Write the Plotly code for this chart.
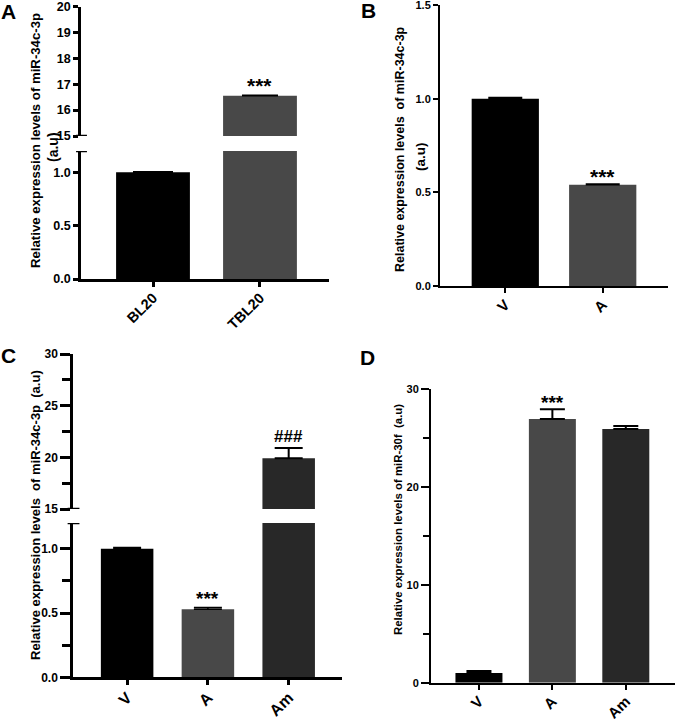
import plotly.graph_objects as go

W = 675
H = 719
FONT = "Liberation Sans"

labels_a = ["BL20", "TBL20"]
values_a = [1.0, 16.55]
errors_a = [0.006, 0.02]
colors_a = ["#000000", "#484848"]

labels_b = ["V", "A"]
values_b = [1.0, 0.54]
errors_b = [0.006, 0.004]
colors_b = ["#000000", "#484848"]

labels_c = ["V", "A", "Am"]
values_c = [1.0, 0.53, 19.9]
errors_c = [0.01, 0.012, 1.0]
colors_c = ["#000000", "#484848", "#282828"]

labels_d = ["V", "A", "Am"]
values_d = [1.0, 26.9, 25.9]
errors_d = [0.2, 1.0, 0.3]
colors_d = ["#000000", "#484848", "#282828"]


def dom_x(left, right):
    return [left / W, right / W]


def dom_y(top, bottom):
    return [1 - bottom / H, 1 - top / H]


def add_bars(fig, labels, values, errors, colors, xname, yname, width, cap, lw):
    fig.add_trace(go.Bar(
        x=labels, y=values, width=width, xaxis=xname, yaxis=yname,
        marker=dict(color=colors, line_width=0),
        error_y=dict(type="data", array=errors, arrayminus=[0] * len(errors),
                     symmetric=False, color="#000000", thickness=lw, width=cap),
        showlegend=False,
    ))


def x_axis(left, right, xrange, yname, lw, size):
    return dict(
        domain=dom_x(left, right), range=xrange, type="category", anchor=yname,
        showline=True, linecolor="#000000", linewidth=lw, showgrid=False, zeroline=False,
        ticks="outside", ticklen=5, tickwidth=lw, tickcolor="#000000", tickangle=-45,
        ticklabeloverflow="allow", ticklabelstandoff=-3,
        tickfont=dict(family=FONT, size=size, color="#000000", weight=700),
    )


def y_axis(top, bottom, yrange, dtick, xname, lw, size, ticklen, fmt="d", minor=None):
    ax = dict(
        domain=dom_y(top, bottom), range=yrange, dtick=dtick, tick0=0, anchor=xname,
        showline=True, linecolor="#000000", linewidth=lw, showgrid=False, zeroline=False,
        ticks="outside", ticklen=ticklen, tickwidth=lw, tickcolor="#000000", tickformat=fmt,
        ticklabeloverflow="allow",
        tickfont=dict(family=FONT, size=size, color="#000000", weight=700),
    )
    if minor:
        ax["minor"] = dict(dtick=minor, tick0=0, ticks="outside", ticklen=ticklen - 2,
                           tickwidth=lw, tickcolor="#000000")
    return ax


fig = go.Figure()

# A, broken axis: same bars drawn on both y segments
add_bars(fig, labels_a, values_a, errors_a, colors_a, "x", "y", 0.69, 20, 1.5)
add_bars(fig, labels_a, values_a, errors_a, colors_a, "x", "y2", 0.69, 18, 1.5)
# B
add_bars(fig, labels_b, values_b, errors_b, colors_b, "x2", "y3", 0.69, 17, 1.5)
# C, broken axis
add_bars(fig, labels_c, values_c, errors_c, colors_c, "x3", "y4", 0.65, 14, 1.5)
add_bars(fig, labels_c, values_c, errors_c, colors_c, "x3", "y5", 0.65, 14, 2)
# D
add_bars(fig, labels_d, values_d, errors_d, colors_d, "x4", "y6", 0.64, 12.5, 2)

fig.update_layout(
    width=W, height=H, margin=dict(l=0, r=0, t=0, b=0, autoexpand=False),
    paper_bgcolor="#ffffff", plot_bgcolor="#ffffff", barmode="overlay",
    xaxis=x_axis(81, 329, [-0.673, 1.645], "y", 2.5, 14.5),
    yaxis=y_axis(151, 279, [0, 1.2], 0.5, "x", 2.5, 12.5, 5, fmt=".1f"),
    yaxis2=y_axis(6.5, 136, [15, 20], 1, "x", 2.5, 12.5, 5),
    xaxis2=x_axis(440, 668, [-0.67, 1.67], "y3", 2, 15),
    yaxis3=y_axis(5, 286, [0, 1.5], 0.5, "x2", 2, 11, 5, fmt=".1f"),
    xaxis3=x_axis(73, 342, [-0.67, 2.66], "y4", 2.5, 16),
    yaxis4=y_axis(523, 677.3, [0, 1.2], 0.5, "x3", 2.5, 12, 10, fmt=".1f", minor=0.25),
    yaxis5=y_axis(354, 509, [15, 30], 5, "x3", 2.5, 12, 10, minor=2.5),
    xaxis4=x_axis(431, 675, [-0.653, 2.67], "y6", 2, 15),
    yaxis6=y_axis(388.7, 682.7, [0, 30], 10, "x4", 2, 11, 8, minor=5),
)

# caps at the axis breaks
for xname, yname, val in [("x", "y2", 15), ("x", "y", 1.2), ("x3", "y5", 15), ("x3", "y4", 1.2)]:
    fig.add_shape(type="line", xref=xname + " domain", yref=yname, x0=-0.02, x1=0.024, y0=val, y1=val,
                  line=dict(color="#000000", width=2.5))

for txt, x, y in [("A", 8, 11), ("B", 368, 10), ("C", 8, 356), ("D", 367, 357)]:
    fig.add_annotation(text=txt, xref="paper", yref="paper", x=x / W, y=1 - y / H, showarrow=False,
                       xanchor="center", yanchor="middle",
                       font=dict(family=FONT, size=21, color="#000000", weight=700))

# y titles
for txt, x, y, size in [
    ("Relative expression levels of miR-34c-3p", 36, 141, 13.2),
    ("(a.u)", 53, 147, 14),
    ("Relative expression levels  of miR-34c-3p", 400, 149, 12.5),
    ("(a.u)", 420, 157, 13.5),
    ("Relative expression levels  of miR-34c-3p  (a.u)", 35, 515, 13),
    ("Relative expression levels of miR-30f  (a.u)", 398, 520, 11.4),
]:
    fig.add_annotation(text=txt, xref="paper", yref="paper", x=x / W, y=1 - y / H, showarrow=False,
                       textangle=-90, xanchor="center", yanchor="middle",
                       font=dict(family=FONT, size=size, color="#000000", weight=700))

# significance marks
for txt, xname, yname, x, y, size in [
    ("***", "x", "y2", "TBL20", 16.95, 21),
    ("***", "x2", "y3", "A", 0.585, 21),
    ("###", "x3", "y5", "Am", 22.0, 17),
    ("***", "x3", "y4", "A", 0.615, 19),
    ("***", "x4", "y6", "A", 28.6, 19),
]:
    fig.add_annotation(text="<b>" + txt + "</b>", xref=xname, yref=yname, x=x, y=y, showarrow=False,
                       xanchor="center", yanchor="middle",
                       font=dict(family=FONT, size=size, color="#000000"))

# the page has a default 8px body margin, take it off so the pixel layout holds
fig.write_html("out.html", config={"displayModeBar": False},
               post_script="document.body.style.margin='0';")
